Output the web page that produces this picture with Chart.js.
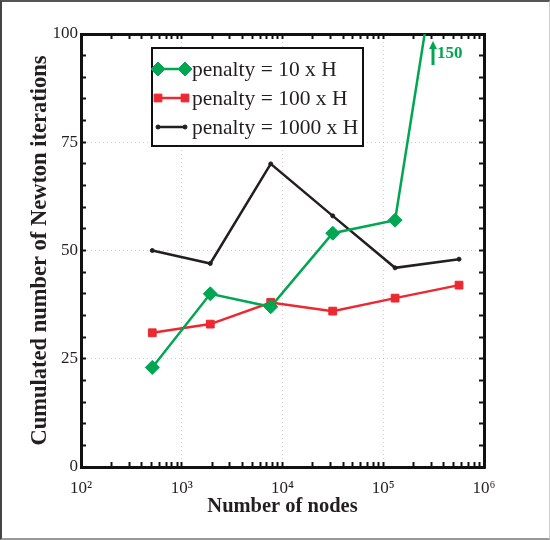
<!DOCTYPE html>
<html><head><meta charset="utf-8">
<script src="https://cdn.jsdelivr.net/npm/chart.js@4.4.1/dist/chart.umd.min.js"></script>
<style>
html,body{margin:0;padding:0;background:#fff;}
#wrap{position:relative;width:550px;height:540px;}
#c{position:absolute;left:0;top:0;}
#frame{position:absolute;left:0;top:0;width:550px;height:540px;box-sizing:border-box;border-top:2px solid #555;border-left:2px solid #444;border-right:1px solid #ccc;border-bottom:2px solid #999;pointer-events:none;}
</style></head><body>
<div id="wrap"><canvas id="c" width="550" height="540"></canvas><div id="frame"></div></div>
<script>
// ---- data ----
const nodes = [510, 1920, 7640, 31500, 131000, 565000];
const iter10 = [23, 40, 37, 54, 57, 150];
const iter100 = [31, 33, 38, 36, 39, 42];
const iter1000 = [50, 47, 70, 58, 46, 48];
const seriesLabels = ['penalty = 10 x H', 'penalty = 100 x H', 'penalty = 1000 x H'];
const xDecades = [2, 3, 4, 5, 6];
const yLabelTicks = [0, 25, 50, 75, 100];
const xTitle = 'Number of nodes';
const yTitle = 'Cumulated number of Newton iterations';

const GREEN = '#00a651', RED = '#ec2830', BLACK = '#231f20';
const SERIF = "'Liberation Serif', 'Times New Roman', serif";
const SUP = {'0':'\u2070','1':'\u00b9','2':'\u00b2','3':'\u00b3','4':'\u2074','5':'\u2075','6':'\u2076','7':'\u2077','8':'\u2078','9':'\u2079'};

const pts = arr => nodes.map((n, i) => ({x: n, y: arr[i]}));

// all log ticks (1..9 x 10^n) within range
const xTickVals = [];
for (let d = xDecades[0]; d <= xDecades[xDecades.length - 1]; d++) {
  for (let m = 1; m <= 9; m++) {
    if (d === xDecades[xDecades.length - 1] && m > 1) break;
    xTickVals.push(m * Math.pow(10, d));
  }
}
const isDecade = v => Math.abs(Math.log10(v) - Math.round(Math.log10(v))) < 1e-9;

const gridDotted = 'rgba(120,120,120,0.35)';

function xScaleBase(pos) {
  return {
    type: 'logarithmic', position: pos, min: 100, max: 1e6,
    afterBuildTicks: s => { s.ticks = xTickVals.map(v => ({value: v})); },
    border: {display: true, color: '#111', width: 3, dash: [1, 3]},
    grid: {
      drawOnChartArea: pos === 'bottom',
      color: c => (c.tick && isDecade(c.tick.value) && c.tick.value > 100 && c.tick.value < 1e6) ? gridDotted : 'rgba(0,0,0,0)',
      lineWidth: 1,
      tickLength: -5, tickColor: '#111', tickWidth: 2
    }
  };
}
function yScaleBase(pos) {
  return {
    type: 'linear', position: pos, min: 0, max: 100,
    ticks: {stepSize: 5},
    border: {display: true, color: '#111', width: 3, dash: [1, 3]},
    grid: {
      drawOnChartArea: pos === 'left',
      color: c => (c.tick && c.tick.value % 25 === 0 && c.tick.value > 0 && c.tick.value < 100) ? gridDotted : 'rgba(0,0,0,0)',
      lineWidth: 1,
      tickLength: -5, tickColor: '#111', tickWidth: 2
    }
  };
}

const xMain = xScaleBase('bottom');
xMain.ticks = {
  autoSkip: false, maxRotation: 0, padding: 16, color: BLACK,
  font: {family: SERIF, size: 17},
  callback: v => isDecade(v) ? '10' + String(Math.round(Math.log10(v))).split('').map(ch => SUP[ch]).join('') : ''
};
xMain.title = {display: true, text: xTitle, color: BLACK, font: {family: SERIF, size: 20.5, weight: 'bold'}, padding: {top: 0, bottom: 20.5}};
xMain.afterFit = s => { s.height = 73; };

const xTop = xScaleBase('top');
xTop.ticks = {display: false};
xTop.afterFit = s => { s.height = 0; };

const yMain = yScaleBase('left');
yMain.ticks = {
  stepSize: 5, padding: 8, color: BLACK, autoSkip: false,
  font: {family: SERIF, size: 17},
  callback: v => yLabelTicks.includes(v) ? String(v) : ''
};
yMain.title = {display: true, text: yTitle, color: BLACK, font: {family: SERIF, size: 22.5, weight: 'bold'}, padding: {top: 27, bottom: 0}};
yMain.afterFit = s => { s.width = 81; };

const yRight = yScaleBase('right');
yRight.ticks = {stepSize: 5, display: false};
yRight.afterFit = s => { s.width = 0; };

const legendBox = {
  id: 'legendBox',
  afterDatasetsDraw(chart) {
    const ctx = chart.ctx;
    ctx.save();
    const bx = 152, by = 48, bw = 211, bh = 98;
    ctx.fillStyle = '#fff';
    ctx.fillRect(bx, by, bw, bh);
    ctx.lineWidth = 2; ctx.strokeStyle = '#111';
    ctx.strokeRect(bx, by, bw, bh);
    chart.data.datasets.forEach((ds, i) => {
      const y = 69 + 29 * i;
      ctx.strokeStyle = ds.borderColor; ctx.lineWidth = ds.borderWidth;
      ctx.beginPath(); ctx.moveTo(158, y); ctx.lineTo(185, y); ctx.stroke();
      const opt = {pointStyle: ds.pointStyle, radius: ds.pointRadius, borderWidth: 1, rotation: 0};
      ctx.fillStyle = ds.backgroundColor; ctx.strokeStyle = ds.borderColor; ctx.lineWidth = 1;
      Chart.helpers.drawPoint(ctx, opt, 158, y);
      Chart.helpers.drawPoint(ctx, opt, 185, y);
      ctx.fillStyle = BLACK;
      ctx.font = '21.5px ' + SERIF;
      ctx.textBaseline = 'middle'; ctx.textAlign = 'left';
      ctx.fillText(ds.label, 192, y + 1);
    });
    // off-scale annotation for the green series
    const offVal = iter10[iter10.length - 1];
    ctx.fillStyle = GREEN; ctx.strokeStyle = GREEN;
    ctx.lineWidth = 3;
    ctx.beginPath(); ctx.moveTo(433, 65); ctx.lineTo(433, 47); ctx.stroke();
    ctx.beginPath(); ctx.moveTo(429, 49); ctx.lineTo(437, 49); ctx.lineTo(433, 41); ctx.closePath(); ctx.fill();
    ctx.font = 'bold 17px ' + SERIF;
    ctx.textBaseline = 'middle'; ctx.textAlign = 'left';
    ctx.fillText(String(offVal), 437, 54);
    ctx.restore();
  }
};

new Chart(document.getElementById('c'), {
  type: 'line',
  data: {
    datasets: [
      {label: seriesLabels[0], data: pts(iter10), borderColor: GREEN, backgroundColor: GREEN, borderWidth: 2.5, pointStyle: 'rectRot', pointRadius: 7, pointBorderWidth: 1, tension: 0},
      {label: seriesLabels[1], data: pts(iter100), borderColor: RED, backgroundColor: RED, borderWidth: 2.5, pointStyle: 'rect', pointRadius: 5.5, pointBorderWidth: 1, tension: 0},
      {label: seriesLabels[2], data: pts(iter1000), borderColor: BLACK, backgroundColor: BLACK, borderWidth: 2.5, pointStyle: 'circle', pointRadius: 2, pointBorderWidth: 1, tension: 0}
    ]
  },
  options: {
    responsive: false, animation: false,
    layout: {padding: {top: 34, right: 66, left: 0, bottom: 0}},
    plugins: {legend: {display: false}, tooltip: {enabled: false}},
    scales: {x: xMain, x2: xTop, y: yMain, y2: yRight}
  },
  plugins: [legendBox]
});
</script>
</body></html>
